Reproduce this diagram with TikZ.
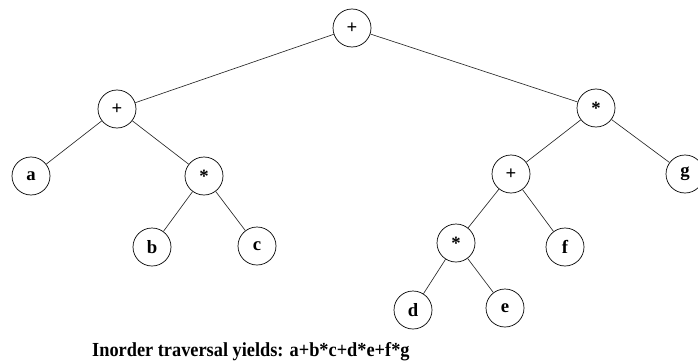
\documentclass[tikz,border=0pt]{standalone}
\usepackage{fontspec}
\setmainfont{Liberation Serif}
\usetikzlibrary{positioning}

\begin{document}
\begin{tikzpicture}[x=0.03cm,y=-0.03cm,font=\bfseries\fontsize{16}{16}\selectfont,
  opnode/.style={draw,circle,minimum size=1.14cm,inner sep=0pt,line width=0.6pt},
  branch/.style={draw=black!85,line width=0.55pt}]
\useasboundingbox (0,0) rectangle (698,361);
% operators
\node[opnode] (root) at (352,28) {+};
\node[opnode] (plusL) at (117,109) {+};
\node[opnode] (timesR) at (596,108) {*};
\node[opnode] (timesL) at (204,176) {*};
\node[opnode] (plusR) at (511,174) {+};
\node[opnode] (timesD) at (456,243) {*};
% operands
\node[opnode] (a) at (31,176) {a};
\node[opnode] (b) at (152,247) {b};
\node[opnode] (c) at (257,246) {c};
\node[opnode] (d) at (413,310) {d};
\node[opnode] (e) at (505,308) {e};
\node[opnode] (f) at (565,247) {f};
\node[opnode] (g) at (685,174) {g};
% branches
\draw[branch] (root) -- (plusL);
\draw[branch] (root) -- (timesR);
\draw[branch] (plusL) -- (a);
\draw[branch] (plusL) -- (timesL);
\draw[branch] (timesL) -- (b);
\draw[branch] (timesL) -- (c);
\draw[branch] (timesR) -- (plusR);
\draw[branch] (timesR) -- (g);
\draw[branch] (plusR) -- (timesD);
\draw[branch] (plusR) -- (f);
\draw[branch] (timesD) -- (d);
\draw[branch] (timesD) -- (e);
\node[anchor=base west,inner sep=0pt,font=\bfseries\fontsize{17}{17}\selectfont] (yields) at (92,356)
  {\scalebox{0.92}[1]{Inorder traversal yields: a+b*c+d*e+f*g}};
\end{tikzpicture}
\end{document}
